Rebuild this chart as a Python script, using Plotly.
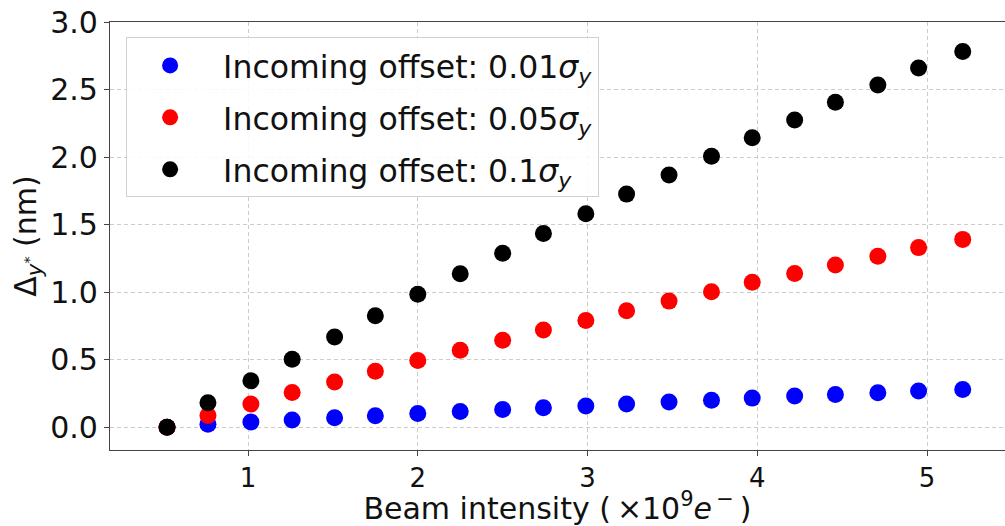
import plotly.graph_objects as go

# Beam intensity in units of 1e9 electrons
intensity = [0.523, 0.764, 1.017, 1.26, 1.51, 1.75, 2.0, 2.25, 2.50, 2.74,
             2.99, 3.23, 3.48, 3.73, 3.97, 4.22, 4.46, 4.71, 4.95, 5.21]

# Vertical deflection (nm) for each incoming offset
offset_001 = [0.0, 0.022, 0.039, 0.054, 0.071, 0.086, 0.103, 0.117, 0.131, 0.145,
              0.157, 0.172, 0.187, 0.201, 0.216, 0.231, 0.243, 0.255, 0.268, 0.280]
offset_005 = [0.0, 0.088, 0.172, 0.258, 0.336, 0.415, 0.494, 0.570, 0.644, 0.720,
              0.791, 0.863, 0.934, 1.003, 1.074, 1.138, 1.202, 1.266, 1.330, 1.391]
offset_01 = [0.0, 0.181, 0.344, 0.504, 0.668, 0.826, 0.985, 1.136, 1.288, 1.435,
             1.580, 1.726, 1.868, 2.006, 2.143, 2.274, 2.406, 2.534, 2.659, 2.782]

# small gap between legend marker and its text
GAP = "\u00a0"
series = [
    (GAP + "Incoming offset: 0.01<i>σ</i><sub><i>y</i></sub>", offset_001, "#0000ff"),
    (GAP + "Incoming offset: 0.05<i>σ</i><sub><i>y</i></sub>", offset_005, "#ff0000"),
    (GAP + "Incoming offset: 0.1<i>σ</i><sub><i>y</i></sub>", offset_01, "#000000"),
]

FONT = "DejaVu Sans"

fig = go.Figure()
for i, (name, vals, color) in enumerate(series):
    fig.add_trace(go.Scatter(
        x=intensity, y=vals, mode="markers", name=name,
        legendgroup=f"g{i}",
        marker=dict(color=color, size=17, line=dict(width=0)),
    ))

axis_common = dict(
    showline=True, linecolor="#444444", linewidth=1.2,
    ticks="outside", ticklen=5, tickwidth=1.2, tickcolor="#444444",
    showgrid=True, gridcolor="#cccccc", griddash="4px,3px", gridwidth=1,
    zeroline=False,
)

fig.update_layout(
    width=1005, height=526,
    margin=dict(l=110, r=0, t=22, b=76),
    paper_bgcolor="white", plot_bgcolor="white",
    font=dict(family=FONT, color="#111111"),
    xaxis=dict(
        range=[0.187, 5.459], tickvals=[1, 2, 3, 4, 5], mirror=True,
        tickfont=dict(family=FONT, size=26, color="#111111"),
        title=dict(text="Beam intensity (\u2009×10<sup>9</sup><i>e</i><sup>\u2009−</sup>\u2009)",
                   font=dict(family=FONT, size=30), standoff=4),
        **axis_common,
    ),
    yaxis=dict(
        range=[-0.168, 3.0], tickvals=[0, 0.5, 1, 1.5, 2, 2.5, 3],
        ticktext=["0.0", "0.5", "1.0", "1.5", "2.0", "2.5", "3.0"],
        tickfont=dict(family=FONT, size=30, color="#111111"),
        title=dict(text="Δ<sub><i>y</i><sup>*</sup></sub> (nm)",
                   font=dict(family=FONT, size=30), standoff=4),
        **axis_common,
    ),
    legend=dict(
        x=0.018, y=0.964, xanchor="left", yanchor="top",
        bgcolor="rgba(255,255,255,0.85)", bordercolor="#d0d0d0", borderwidth=1,
        font=dict(family=FONT, size=31.5, color="#111111"),
        traceorder="grouped", tracegroupgap=8, itemwidth=76,
    ),
    showlegend=True,
)

fig.write_html("out.html")
